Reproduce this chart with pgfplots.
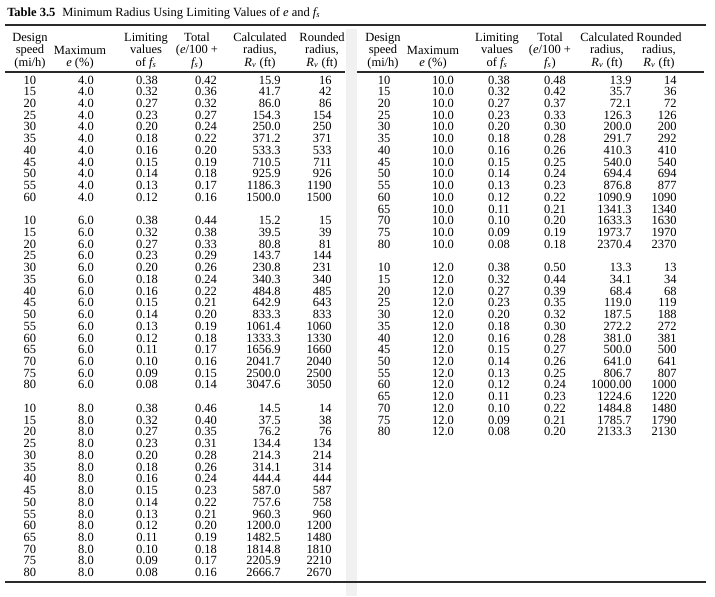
\documentclass[border=0pt]{standalone}
\usepackage{fontspec}
\setmainfont{Liberation Serif}
\usepackage{pgfplots}
\usepackage{pgfplotstable}
\pgfplotsset{compat=1.18}

\definecolor{stripgray}{HTML}{F1F1F1}
\definecolor{rulegray}{HTML}{2A2A2A}
\newcommand\tf{\fontsize{9}{9}\selectfont}

% r = row position (blank row between groups)
\pgfplotstableread{
r sp e fs tot calc rnd
0 10 4.0 0.38 0.42 15.9 16
1 15 4.0 0.32 0.36 41.7 42
2 20 4.0 0.27 0.32 86.0 86
3 25 4.0 0.23 0.27 154.3 154
4 30 4.0 0.20 0.24 250.0 250
5 35 4.0 0.18 0.22 371.2 371
6 40 4.0 0.16 0.20 533.3 533
7 45 4.0 0.15 0.19 710.5 711
8 50 4.0 0.14 0.18 925.9 926
9 55 4.0 0.13 0.17 1186.3 1190
10 60 4.0 0.12 0.16 1500.0 1500
12 10 6.0 0.38 0.44 15.2 15
13 15 6.0 0.32 0.38 39.5 39
14 20 6.0 0.27 0.33 80.8 81
15 25 6.0 0.23 0.29 143.7 144
16 30 6.0 0.20 0.26 230.8 231
17 35 6.0 0.18 0.24 340.3 340
18 40 6.0 0.16 0.22 484.8 485
19 45 6.0 0.15 0.21 642.9 643
20 50 6.0 0.14 0.20 833.3 833
21 55 6.0 0.13 0.19 1061.4 1060
22 60 6.0 0.12 0.18 1333.3 1330
23 65 6.0 0.11 0.17 1656.9 1660
24 70 6.0 0.10 0.16 2041.7 2040
25 75 6.0 0.09 0.15 2500.0 2500
26 80 6.0 0.08 0.14 3047.6 3050
28 10 8.0 0.38 0.46 14.5 14
29 15 8.0 0.32 0.40 37.5 38
30 20 8.0 0.27 0.35 76.2 76
31 25 8.0 0.23 0.31 134.4 134
32 30 8.0 0.20 0.28 214.3 214
33 35 8.0 0.18 0.26 314.1 314
34 40 8.0 0.16 0.24 444.4 444
35 45 8.0 0.15 0.23 587.0 587
36 50 8.0 0.14 0.22 757.6 758
37 55 8.0 0.13 0.21 960.3 960
38 60 8.0 0.12 0.20 1200.0 1200
39 65 8.0 0.11 0.19 1482.5 1480
40 70 8.0 0.10 0.18 1814.8 1810
41 75 8.0 0.09 0.17 2205.9 2210
42 80 8.0 0.08 0.16 2666.7 2670
}\lefttab

\pgfplotstableread{
r sp e fs tot calc rnd
0 10 10.0 0.38 0.48 13.9 14
1 15 10.0 0.32 0.42 35.7 36
2 20 10.0 0.27 0.37 72.1 72
3 25 10.0 0.23 0.33 126.3 126
4 30 10.0 0.20 0.30 200.0 200
5 35 10.0 0.18 0.28 291.7 292
6 40 10.0 0.16 0.26 410.3 410
7 45 10.0 0.15 0.25 540.0 540
8 50 10.0 0.14 0.24 694.4 694
9 55 10.0 0.13 0.23 876.8 877
10 60 10.0 0.12 0.22 1090.9 1090
11 65 10.0 0.11 0.21 1341.3 1340
12 70 10.0 0.10 0.20 1633.3 1630
13 75 10.0 0.09 0.19 1973.7 1970
14 80 10.0 0.08 0.18 2370.4 2370
16 10 12.0 0.38 0.50 13.3 13
17 15 12.0 0.32 0.44 34.1 34
18 20 12.0 0.27 0.39 68.4 68
19 25 12.0 0.23 0.35 119.0 119
20 30 12.0 0.20 0.32 187.5 188
21 35 12.0 0.18 0.30 272.2 272
22 40 12.0 0.16 0.28 381.0 381
23 45 12.0 0.15 0.27 500.0 500
24 50 12.0 0.14 0.26 641.0 641
25 55 12.0 0.13 0.25 806.7 807
26 60 12.0 0.12 0.24 1000.00 1000
27 65 12.0 0.11 0.23 1224.6 1220
28 70 12.0 0.10 0.22 1484.8 1480
29 75 12.0 0.09 0.21 1785.7 1790
30 80 12.0 0.08 0.20 2133.3 2130
}\righttab

\pgfplotsset{
  cell/.style={draw=none, no markers, nodes near coords,
    point meta=explicit symbolic,
    every node near coord/.append style={font=\tf, inner sep=0pt}},
  mid/.style={cell, nodes near coords align={anchor=base}},
  rgt/.style={cell, nodes near coords align={anchor=base east}},
}

% header block: #1 x of centre, #2 text (top-aligned, 3 lines)
\newcommand\hd[2]{\node[font=\fontsize{9}{9}\selectfont, align=center,
  inner sep=0pt, anchor=north] at (axis cs:#1,32.5) {#2};}

\begin{document}
\begin{tikzpicture}
\begin{axis}[
  scale only axis,
  width=514.8pt, height=429.12pt,
  xmin=0, xmax=715, ymin=0, ymax=596,
  y dir=reverse,
  hide axis,
  clip=false,
]
\path (rel axis cs:0,0) rectangle (rel axis cs:1,1);
\fill[stripgray] (axis cs:346,29) rectangle (axis cs:357,596);

% title and rules
\node[anchor=west, inner sep=0pt, font=\fontsize{9}{10}\selectfont]
  at (axis cs:7,13) {\textbf{Table 3.5}\hspace{0.55em}Minimum Radius Using Limiting Values of \textit{e} and \textit{f\textsubscript{s}}};
\draw[rulegray, line width=1.1pt] (axis cs:5,25) -- (axis cs:706,25);
\draw[rulegray, line width=0.9pt] (axis cs:5,72) -- (axis cs:345,72);
\draw[rulegray, line width=0.9pt] (axis cs:357,72) -- (axis cs:704,72);
\draw[rulegray, line width=1.2pt] (axis cs:5,582) -- (axis cs:706,582);

% headers, left
\hd{30}{Design\\speed\\(mi/h)}
\hd{80}{\strut\\Maximum\\\textit{e} (\%)}
\hd{146}{Limiting\\values\\of \textit{f\textsubscript{s}}}
\hd{197}{Total\\(\textit{e}/100 +\\\textit{f\textsubscript{s}})}
\hd{260}{Calculated\\radius,\\\textit{R\textsubscript{v}} (ft)}
\hd{322}{Rounded\\radius,\\\textit{R\textsubscript{v}} (ft)}
% headers, right
\hd{383}{Design\\speed\\(mi/h)}
\hd{433}{\strut\\Maximum\\\textit{e} (\%)}
\hd{497}{Limiting\\values\\of \textit{f\textsubscript{s}}}
\hd{550}{Total\\(\textit{e}/100 +\\\textit{f\textsubscript{s}})}
\hd{607}{Calculated\\radius,\\\textit{R\textsubscript{v}} (ft)}
\hd{659}{Rounded\\radius,\\\textit{R\textsubscript{v}} (ft)}

% left table body (y = baseline of each row)
\addplot[mid] table[x expr=30,  y expr=84+11.73*\thisrow{r}, meta=sp]   {\lefttab};
\addplot[mid] table[x expr=86,  y expr=84+11.73*\thisrow{r}, meta=e]    {\lefttab};
\addplot[mid] table[x expr=147, y expr=84+11.73*\thisrow{r}, meta=fs]   {\lefttab};
\addplot[mid] table[x expr=206, y expr=84+11.73*\thisrow{r}, meta=tot]  {\lefttab};
\addplot[rgt] table[x expr=281, y expr=84+11.73*\thisrow{r}, meta=calc] {\lefttab};
\addplot[rgt] table[x expr=332, y expr=84+11.73*\thisrow{r}, meta=rnd]  {\lefttab};

% right table body
\addplot[mid] table[x expr=384, y expr=84+11.73*\thisrow{r}, meta=sp]   {\righttab};
\addplot[mid] table[x expr=443, y expr=84+11.73*\thisrow{r}, meta=e]    {\righttab};
\addplot[mid] table[x expr=499, y expr=84+11.73*\thisrow{r}, meta=fs]   {\righttab};
\addplot[mid] table[x expr=555, y expr=84+11.73*\thisrow{r}, meta=tot]  {\righttab};
\addplot[rgt] table[x expr=632, y expr=84+11.73*\thisrow{r}, meta=calc] {\righttab};
\addplot[rgt] table[x expr=677, y expr=84+11.73*\thisrow{r}, meta=rnd]  {\righttab};
\end{axis}
\end{tikzpicture}
\end{document}
